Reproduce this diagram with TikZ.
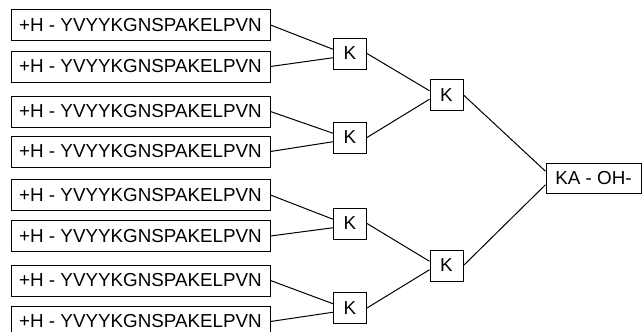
\documentclass[tikz,border=0pt]{standalone}
\usepackage{fontspec}
\setmainfont{Liberation Sans}
\usepackage{tikz}
\usetikzlibrary{positioning, calc}
\tikzset{
  seqbox/.style={rectangle, draw=black, line width=0.5pt, minimum width=129.5pt, minimum height=15.5pt, inner sep=1pt, text centered},
  kbox/.style={rectangle, draw=black, line width=0.5pt, minimum width=16.5pt, minimum height=15.5pt, inner sep=1pt, text centered},
  resbox/.style={rectangle, draw=black, line width=0.5pt, minimum width=47.5pt, minimum height=15pt, inner sep=1pt, text centered},
  link/.style={line width=0.5pt, draw=black}
}

\begin{document}
\begin{tikzpicture}[x=0.5pt, y=-0.5pt, font=\fontsize{9.4pt}{11pt}\selectfont]
        \useasboundingbox (0,0) rectangle (643,332);

        % Secuencias de entrada
        \foreach \i/\yy in {1/25, 2/66.5, 3/111.5, 4/151.5, 5/195, 6/236, 7/280.5, 8/321.5} {
            \node (b\i) [seqbox] at (140.5,\yy) {+H - YVYYKGNSPAKELPVN};
        }

        % Primer nivel de K
        \node (k11) [kbox] at (350,53.5) {K};
        \node (k12) [kbox] at (350,137.5) {K};
        \node (k13) [kbox] at (350,223.5) {K};
        \node (k14) [kbox] at (350,308) {K};

        % Segundo nivel de K
        \node (k21) [kbox] at (446.5,95) {K};
        \node (k22) [kbox] at (446.5,265.5) {K};

        % Resultado
        \node (ka) [resbox] at (593.5,178) {KA - OH-};

        % Conexiones
        \draw [link] (b1.east) -- (k11.166);
        \draw [link] (b2.east) -- (k11.194);
        \draw [link] (b3.east) -- (k12.166);
        \draw [link] (b4.east) -- (k12.194);
        \draw [link] (b5.east) -- (k13.166);
        \draw [link] (b6.east) -- (k13.194);
        \draw [link] (b7.east) -- (k14.166);
        \draw [link] (b8.east) -- (k14.194);
        \draw [link] (k11.east) -- (k21.166);
        \draw [link] (k12.east) -- (k21.194);
        \draw [link] (k13.east) -- (k22.166);
        \draw [link] (k14.east) -- (k22.194);
        \draw [link] (k21.east) -- (ka.172);
        \draw [link] (k22.east) -- (ka.188);
    \end{tikzpicture}
\end{document}
